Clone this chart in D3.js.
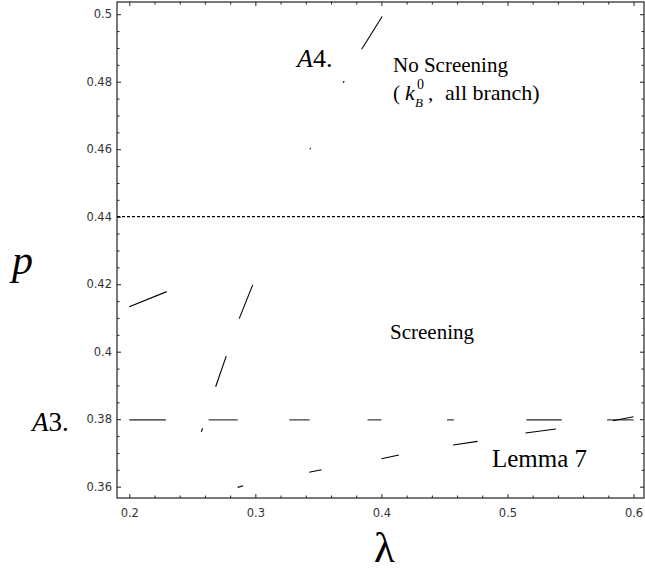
<!DOCTYPE html>
<html>
<head>
<meta charset="utf-8">
<script src="https://cdn.jsdelivr.net/npm/d3@7"></script>
<style>
  body { margin: 0; background: #fff; }
  .axis .tick text { font-family: "DejaVu Sans", Verdana, sans-serif; font-size: 11.5px; fill: #333; }
  .axis .tick line { stroke: #222; }
  .lbl { font-family: "Liberation Serif", "Times New Roman", serif; fill: #000; }
</style>
</head>
<body>
<script>
// tick values / labels
var xMajor = [0.2, 0.3, 0.4, 0.5, 0.6];
var xLabels = ["0.2", "0.3", "0.4", "0.5", "0.6"];
var yMajor = [0.36, 0.38, 0.4, 0.42, 0.44, 0.46, 0.48, 0.5];
var yLabels = ["0.36", "0.38", "0.4", "0.42", "0.44", "0.46", "0.48", "0.5"];

// screening / no screening boundary
var pBoundary = 0.44;

// A3 level line, visible dashes as [lambda0, lambda1]
var a3Level = 0.3798;
var a3Dashes = [[0.2, 0.229], [0.263, 0.286], [0.327, 0.343], [0.389, 0.4],
  [0.452, 0.4575], [0.515, 0.543], [0.579, 0.6]];

// A4 curve, visible dashes as [lambda0, p0, lambda1, p1]
var a4Dashes = [
  [0.2571, 0.3763, 0.2582, 0.3773],
  [0.2685, 0.3896, 0.2769, 0.3987],
  [0.2872, 0.4098, 0.2979, 0.4198],
  [0.3433, 0.46, 0.3438, 0.4604],
  [0.3697, 0.4797, 0.3705, 0.4802],
  [0.3843, 0.4896, 0.4006, 0.4993]
];

// short piece top left
var leftDashes = [[0.2, 0.4133, 0.2297, 0.4178]];

// Lemma 7 curve
var lemmaDashes = [
  [0.286, 0.3598, 0.2904, 0.3603],
  [0.3427, 0.3643, 0.3526, 0.365],
  [0.4, 0.3683, 0.4139, 0.3694],
  [0.4569, 0.37235, 0.4763, 0.37344],
  [0.5143, 0.3759, 0.5384, 0.3771],
  [0.5836, 0.37956, 0.6, 0.38074]
];

var width = 645, height = 570;
// plot frame (window.top is read only, so not "top")
var frameL = 117, frameR = 644, frameT = 2, frameB = 498;

var svg = d3.select("body").append("svg")
  .attr("width", width)
  .attr("height", height);

var x = d3.scaleLinear().domain([0.19025, 0.6083]).range([frameL, frameR]);
var y = d3.scaleLinear().domain([0.35665, 0.50362]).range([frameB, frameT]);

// minor ticks
var xMinor = d3.range(0.2, 0.6001, 0.02).filter(function (d) {
  return Math.abs(d * 10 - Math.round(d * 10)) > 1e-6;
});
var yMinor = d3.range(0.36, 0.5001, 0.005).filter(function (d) {
  return Math.abs(d * 50 - Math.round(d * 50)) > 1e-6;
});

function noDomain(g) { g.select(".domain").remove(); }

// bottom
svg.append("g").attr("class", "axis").attr("transform", "translate(0," + frameB + ")")
  .call(d3.axisBottom(x).tickValues(xMajor).tickSize(-4).tickPadding(11)
    .tickFormat(function (d) { return xLabels[xMajor.indexOf(d)]; }))
  .call(noDomain);
svg.append("g").attr("class", "axis").attr("transform", "translate(0," + frameB + ")")
  .call(d3.axisBottom(x).tickValues(xMinor).tickSize(-2.5).tickFormat(""))
  .call(noDomain);

// left
svg.append("g").attr("class", "axis").attr("transform", "translate(" + frameL + ",0)")
  .call(d3.axisLeft(y).tickValues(yMajor).tickSize(-4).tickPadding(5)
    .tickFormat(function (d) { return yLabels[yMajor.indexOf(d)]; }))
  .call(noDomain);
svg.append("g").attr("class", "axis").attr("transform", "translate(" + frameL + ",0)")
  .call(d3.axisLeft(y).tickValues(yMinor).tickSize(-2.5).tickFormat(""))
  .call(noDomain);

// top + right, ticks only
svg.append("g").attr("class", "axis").attr("transform", "translate(0," + frameT + ")")
  .call(d3.axisTop(x).tickValues(xMajor).tickSize(-4).tickFormat(""))
  .call(noDomain);
svg.append("g").attr("class", "axis").attr("transform", "translate(0," + frameT + ")")
  .call(d3.axisTop(x).tickValues(xMinor).tickSize(-2.5).tickFormat(""))
  .call(noDomain);
svg.append("g").attr("class", "axis").attr("transform", "translate(" + frameR + ",0)")
  .call(d3.axisRight(y).tickValues(yMajor).tickSize(-4).tickFormat(""))
  .call(noDomain);
svg.append("g").attr("class", "axis").attr("transform", "translate(" + frameR + ",0)")
  .call(d3.axisRight(y).tickValues(yMinor).tickSize(-2.5).tickFormat(""))
  .call(noDomain);

// frame
svg.append("rect")
  .attr("x", frameL).attr("y", frameT)
  .attr("width", frameR - frameL).attr("height", frameB - frameT)
  .attr("fill", "none").attr("stroke", "#222").attr("stroke-width", 1.2);

// p = 0.44 dotted line
svg.append("line")
  .attr("x1", x.range()[0]).attr("x2", x.range()[1])
  .attr("y1", y(pBoundary)).attr("y2", y(pBoundary))
  .attr("stroke", "#000").attr("stroke-width", 1.2)
  .attr("stroke-dasharray", "3,2");

// A3 line pieces
svg.selectAll(".a3").data(a3Dashes).enter().append("line")
  .attr("class", "a3")
  .attr("x1", function (d) { return x(d[0]); })
  .attr("x2", function (d) { return x(d[1]); })
  .attr("y1", y(a3Level)).attr("y2", y(a3Level))
  .attr("stroke", "#222").attr("stroke-width", 1.1);

// the sloped curves
var pieces = a4Dashes.concat(leftDashes, lemmaDashes);
svg.selectAll(".curve").data(pieces).enter().append("line")
  .attr("class", "curve")
  .attr("x1", function (d) { return x(d[0]); })
  .attr("y1", function (d) { return y(d[1]); })
  .attr("x2", function (d) { return x(d[2]); })
  .attr("y2", function (d) { return y(d[3]); })
  .attr("stroke", "#000").attr("stroke-width", 1.1);

// axis titles
svg.append("text").attr("class", "lbl")
  .attr("x", 12).attr("y", 274)
  .style("font-size", "42px").style("font-style", "italic")
  .text("p");
svg.append("text").attr("class", "lbl")
  .attr("x", 374).attr("y", 562)
  .style("font-size", "43px")
  .text("λ");

// region labels
var a4 = svg.append("text").attr("class", "lbl")
  .attr("x", 297).attr("y", 67).style("font-size", "26px");
a4.append("tspan").style("font-style", "italic").text("A");
a4.append("tspan").text("4.");

var a3 = svg.append("text").attr("class", "lbl")
  .attr("x", 32).attr("y", 431).style("font-size", "27px");
a3.append("tspan").style("font-style", "italic").text("A");
a3.append("tspan").text("3.");

svg.append("text").attr("class", "lbl")
  .attr("x", 393).attr("y", 72).style("font-size", "21px")
  .text("No Screening");

svg.append("text").attr("class", "lbl")
  .attr("x", 393).attr("y", 100).style("font-size", "21px").text("(");
svg.append("text").attr("class", "lbl")
  .attr("x", 405).attr("y", 100).style("font-size", "22px").style("font-style", "italic").text("k");
svg.append("text").attr("class", "lbl")
  .attr("x", 417).attr("y", 89).style("font-size", "14px").text("0");
svg.append("text").attr("class", "lbl")
  .attr("x", 415).attr("y", 107).style("font-size", "13px").style("font-style", "italic").text("B");
svg.append("text").attr("class", "lbl")
  .attr("x", 428).attr("y", 100).style("font-size", "21px").text(",");
svg.append("text").attr("class", "lbl")
  .attr("x", 445).attr("y", 100).style("font-size", "22px").text("all branch)");

svg.append("text").attr("class", "lbl")
  .attr("x", 390).attr("y", 339).style("font-size", "21px")
  .text("Screening");

svg.append("text").attr("class", "lbl")
  .attr("x", 492).attr("y", 467).style("font-size", "25px")
  .text("Lemma 7");
</script>
</body>
</html>
